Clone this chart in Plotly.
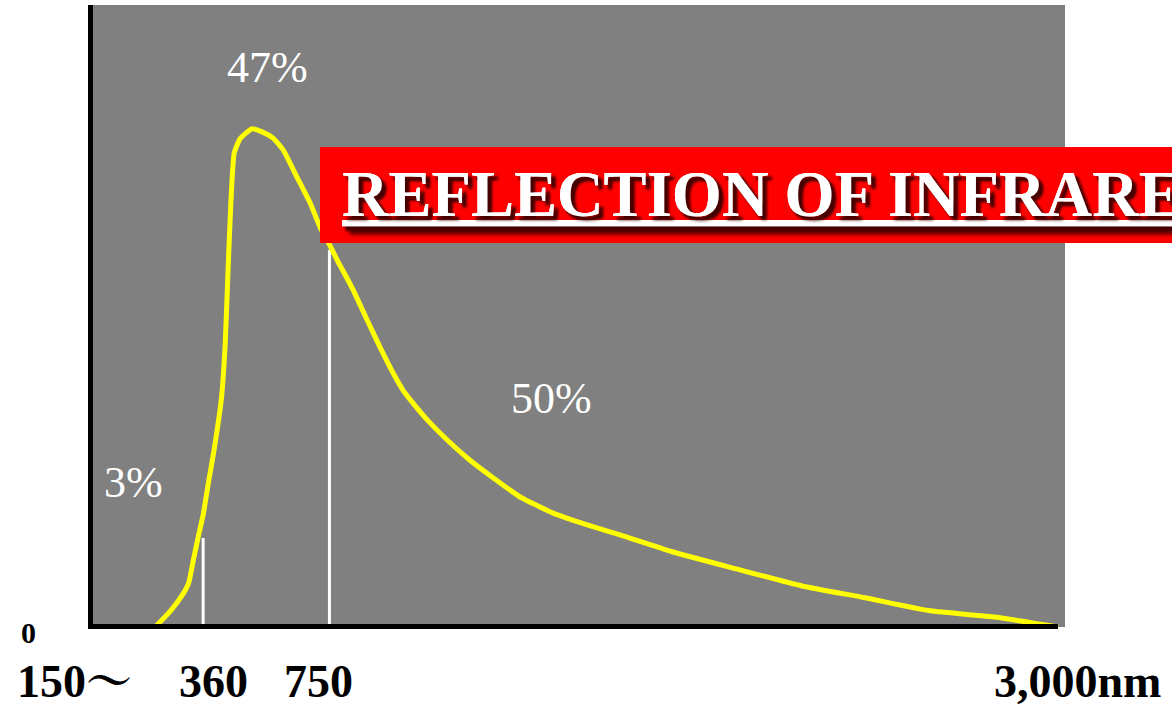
import plotly.graph_objects as go

# ---- data (wavelength in nm, relative intensity) ----
wavelength_nm = [212, 258, 299, 315, 330, 345, 361, 376, 392, 416, 428, 437, 446, 456, 474, 511,
                 542, 576, 607, 650, 690, 721, 743, 774, 823, 866, 906, 947, 977, 1008, 1052,
                 1113, 1184, 1255, 1339, 1441, 1546, 1647, 1808, 2009, 2209, 2404, 2605, 2805, 3000]
intensity = [0, 2.5, 5.4, 7.0, 10.8, 14.5, 18.3, 23.1, 27.9, 36.5, 45.3, 57.4, 68.6, 76.2, 78.5, 80.1,
             79.6, 78.6, 76.7, 72.3, 68.2, 64.3, 62.2, 59.0, 54.2, 49.4, 45.0, 40.8, 38.1, 36.0, 33.3,
             30.1, 26.8, 24.0, 20.9, 18.3, 16.4, 14.8, 12.1, 9.3, 6.6, 4.7, 2.6, 1.6, 0]

# boundary markers (UV | visible | infrared)
boundary_nm = [360, 750]
boundary_height = [14.3, 60.6]

# region shares
share_labels = ["3%", "47%", "50%"]
share_nm = [144, 558, 1437]
share_level = [23.3, 90.0, 36.8]

# axis texts
tick_labels = ["150～", "360", "750", "3,000nm"]
zero_label = "0"
title_text = "REFLECTION OF INFRARED"

# ---- layout constants ----
W, H = 1172, 707
L, R, T, B = 93, 107, 5, 80
PW, PH = W - L - R, H - T - B

def px_x(p):
    return (p - L) / PW

def px_y(p):
    return (H - B - p) / PH

SERIF = "Liberation Serif, Times New Roman, Noto Serif CJK JP, Noto Sans CJK JP, serif"

fig = go.Figure()

# boundary lines (white)
for nm, h in zip(boundary_nm, boundary_height):
    fig.add_trace(go.Scatter(x=[nm, nm], y=[0, h], mode="lines",
                             line=dict(color="white", width=3),
                             hoverinfo="skip", showlegend=False))

# spectrum curve
fig.add_trace(go.Scatter(x=wavelength_nm, y=intensity, mode="lines",
                         line=dict(color="#FFFF00", width=5, shape="spline", smoothing=0.5),
                         showlegend=False))

shapes = [
    # left axis line
    dict(type="rect", xref="paper", yref="paper", x0=px_x(88), x1=px_x(93),
         y0=px_y(629), y1=px_y(5), fillcolor="black", line=dict(width=0), layer="above"),
    # bottom axis line
    dict(type="rect", xref="paper", yref="paper", x0=px_x(88), x1=px_x(1058),
         y0=px_y(629), y1=px_y(624), fillcolor="black", line=dict(width=0), layer="above"),
    # red title band
    dict(type="rect", xref="paper", yref="paper", x0=px_x(320), x1=px_x(1190),
         y0=px_y(243), y1=px_y(147), fillcolor="#FF0000", line=dict(width=0), layer="above"),
]

annotations = []
# share labels
for t, nm, lv in zip(share_labels, share_nm, share_level):
    annotations.append(dict(x=nm, y=lv, xref="x", yref="y", text=t, showarrow=False,
                            font=dict(family=SERIF, size=44, color="white"),
                            xanchor="center", yanchor="middle"))

# title
annotations.append(dict(x=px_x(340), y=px_y(195), xref="paper", yref="paper",
                        text=title_text, showarrow=False, xanchor="left", yanchor="middle",
                        font=dict(family=SERIF, size=64.5, color="white", weight="bold",
                                  lineposition="under",
                                  shadow="4px 4px 3px rgba(70,0,0,0.95)")))

# tick texts
tick_px = [(15, "left"), (213, "center"), (318, "center"), (1077, "center")]
for t, (p, anc) in zip(tick_labels, tick_px):
    annotations.append(dict(x=px_x(p), y=px_y(681), xref="paper", yref="paper", text=t,
                            showarrow=False, xanchor=anc, yanchor="middle",
                            font=dict(family=SERIF, size=46, color="black", weight="bold")))
annotations.append(dict(x=px_x(28), y=px_y(632), xref="paper", yref="paper", text=zero_label,
                        showarrow=False, xanchor="center", yanchor="middle",
                        font=dict(family=SERIF, size=30, color="black", weight="bold")))

fig.update_layout(
    width=W, height=H,
    margin=dict(l=L, r=R, t=T, b=B, pad=0),
    paper_bgcolor="white", plot_bgcolor="#808080",
    xaxis=dict(range=[20, 3021], showgrid=False, zeroline=False, showticklabels=False,
               showline=False, ticks="", fixedrange=True),
    yaxis=dict(range=[0, 100], showgrid=False, zeroline=False, showticklabels=False,
               showline=False, ticks="", fixedrange=True),
    shapes=shapes, annotations=annotations, showlegend=False,
)

fig.write_html("out.html", config={"displayModeBar": False},
               post_script="document.body.style.margin='0px';document.body.style.overflow='hidden';")
